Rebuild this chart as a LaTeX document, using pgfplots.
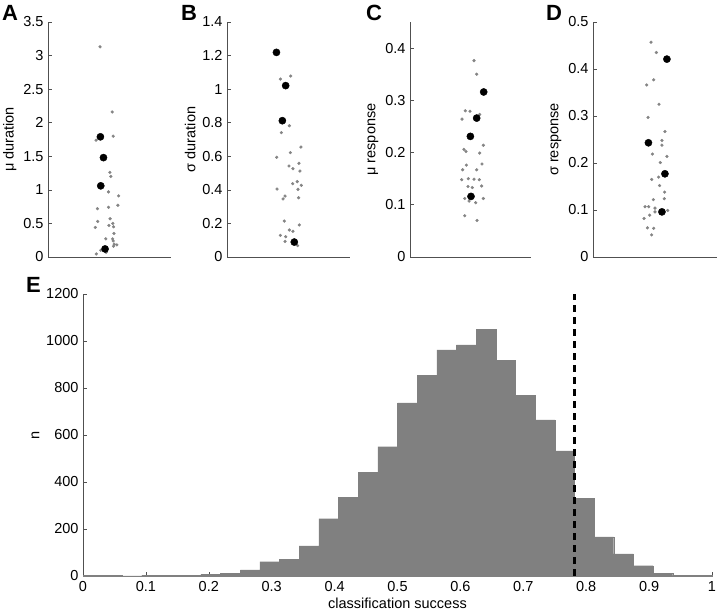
\documentclass[border=0pt]{standalone}
\usepackage{fontspec}
\setmainfont{Liberation Sans}
\usepackage{pgfplots}
\pgfplotsset{compat=1.18}
\definecolor{histgray}{RGB}{128,128,128}
\definecolor{ptgray}{RGB}{132,132,132}
\definecolor{axgray}{RGB}{80,80,80}
\newcommand{\ff}{\fontsize{14.5bp}{17bp}\selectfont}
\pgfplotsset{
  common/.style={
    scale only axis, anchor=south west, axis lines*=left,
    axis line style={axgray, line width=0.6bp},
    major tick length=4bp, tick style={axgray, line width=0.6bp},
    tick label style={font=\ff},
    label style={font=\ff},
    /pgf/number format/assume math mode=true,
    /pgf/number format/1000 sep={},
    yticklabel style={/pgf/number format/fixed, xshift=-1bp},
    clip=false,
  },
  toppanel/.style={common, width=123bp, height=235bp,
    xmin=0, xmax=1, ymin=0, xtick=\empty,
    ylabel style={yshift=0bp}},
  gpt/.style={only marks, mark=*, mark size=1.4bp, color=ptgray},
  bpt/.style={only marks, mark=*, mark size=3.6bp, color=black},
}
\begin{document}
\begin{tikzpicture}
\useasboundingbox (0bp,0bp) rectangle (720bp,612bp);
% ---------- A ----------
\begin{axis}[toppanel, at={(48bp,355bp)}, ymax=3.5,
  ytick={0,0.5,1,1.5,2,2.5,3,3.5}, ylabel={μ duration}]
\addplot[gpt] table {
0.423 3.13
0.522 2.16
0.530 1.80
0.391 1.74
0.503 1.26
0.511 1.20
0.492 0.97
0.574 0.91
0.568 0.77
0.402 0.72
0.492 0.74
0.505 0.57
0.404 0.53
0.527 0.50
0.385 0.44
0.495 0.47
0.533 0.45
0.536 0.35
0.470 0.27
0.525 0.27
0.530 0.24
0.538 0.19
0.560 0.18
0.533 0.16
0.429 0.10
0.473 0.07
0.393 0.045
};
\addplot[bpt] table {
0.426 1.79
0.451 1.48
0.429 1.06
0.464 0.12
};
\end{axis}
% ---------- B ----------
\begin{axis}[toppanel, at={(227bp,355bp)}, ymax=1.4,
  ytick={0,0.2,0.4,0.6,0.8,1,1.2,1.4}, ylabel={σ duration}]
\addplot[gpt] table {
0.434 1.060
0.518 1.078
0.507 0.782
0.442 0.741
0.601 0.655
0.404 0.594
0.515 0.622
0.504 0.542
0.536 0.526
0.585 0.558
0.593 0.512
0.571 0.449
0.534 0.437
0.604 0.427
0.577 0.403
0.407 0.405
0.472 0.363
0.456 0.346
0.582 0.353
0.466 0.214
0.588 0.191
0.507 0.161
0.536 0.153
0.434 0.129
0.477 0.121
0.472 0.093
0.574 0.068
};
\addplot[bpt] table {
0.402 1.219
0.477 1.021
0.450 0.812
0.547 0.089
};
\end{axis}
% ---------- C ----------
\begin{axis}[toppanel, at={(410bp,355bp)}, ymax=0.45, width=121bp,
  ytick={0,0.1,0.2,0.3,0.4}, ylabel={μ response}]
\addplot[gpt] table {
0.529 0.376
0.551 0.350
0.457 0.280
0.496 0.279
0.576 0.273
0.430 0.264
0.562 0.263
0.606 0.214
0.446 0.206
0.463 0.202
0.576 0.199
0.466 0.176
0.595 0.178
0.435 0.167
0.551 0.167
0.427 0.148
0.482 0.150
0.529 0.149
0.573 0.148
0.479 0.135
0.515 0.133
0.592 0.136
0.452 0.112
0.488 0.107
0.543 0.104
0.606 0.112
0.452 0.079
0.554 0.070
};
\addplot[bpt] table {
0.609 0.316
0.551 0.266
0.499 0.231
0.504 0.116
};
\end{axis}
% ---------- D ----------
\begin{axis}[toppanel, at={(593bp,355bp)}, ymax=0.5, width=124bp,
  ytick={0,0.1,0.2,0.3,0.4,0.5}, ylabel={σ response}]
\addplot[gpt] table {
0.468 0.457
0.511 0.435
0.489 0.377
0.433 0.366
0.532 0.325
0.444 0.297
0.580 0.267
0.556 0.248
0.556 0.238
0.479 0.219
0.596 0.214
0.543 0.201
0.473 0.165
0.529 0.170
0.537 0.152
0.578 0.138
0.487 0.122
0.575 0.124
0.420 0.107
0.449 0.107
0.500 0.104
0.500 0.096
0.602 0.099
0.457 0.089
0.412 0.082
0.439 0.062
0.489 0.061
0.473 0.047
};
\addplot[bpt] table {
0.596 0.421
0.447 0.243
0.580 0.177
0.556 0.096
};
\end{axis}
% ---------- E ----------
\begin{axis}[common, at={(83bp,36bp)}, width=629bp, height=282bp,
  xmin=0, xmax=1, ymin=0, ymax=1200,
  xtick={0,0.1,0.2,0.3,0.4,0.5,0.6,0.7,0.8,0.9,1},
  ytick={0,200,400,600,800,1000,1200},
  xticklabel style={/pgf/number format/fixed, yshift=-2bp},
  xlabel={classification success}, ylabel={n},
  xlabel style={yshift=1bp}]
\addplot[ybar interval, fill=histgray, draw=histgray, line width=0.2bp] table {
0.00000 2
0.03125 3
0.06250 1
0.09375 4
0.12500 4
0.15625 4
0.18750 8
0.21875 11
0.25000 26
0.28125 61
0.31250 71
0.34375 128
0.37500 244
0.40625 335
0.43750 441
0.46875 550
0.50000 737
0.53125 854
0.56250 962
0.59375 984
0.62500 1050
0.65625 918
0.68750 769
0.71875 664
0.75000 532
0.78125 331
0.81250 166
0.84375 94
0.87500 44
0.90625 12
0.93750 3
0.96875 2
1.00000 2
};
\addplot[black, line width=3.2bp, dash pattern=on 7bp off 5bp] coordinates {(0.781,0) (0.781,1200)};
\end{axis}
% ---------- panel letters ----------
\begin{scope}[every node/.style={font=\fontsize{22bp}{22bp}\selectfont\bfseries, anchor=base west, inner sep=0pt}]
\node at (2bp,591bp) {A};
\node at (181bp,591bp) {B};
\node at (366bp,591bp) {C};
\node at (546bp,591bp) {D};
\node at (26bp,319bp) {E};
\end{scope}
\end{tikzpicture}
\end{document}
